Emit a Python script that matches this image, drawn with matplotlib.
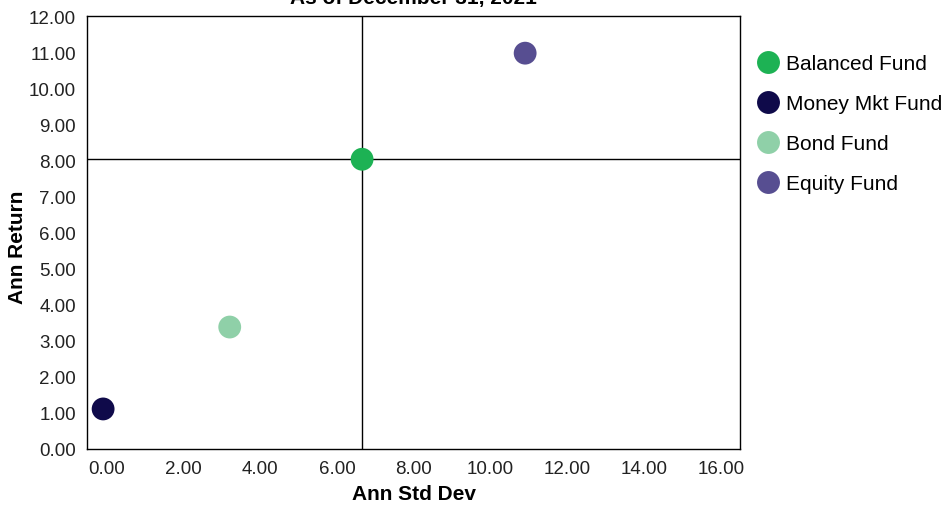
import matplotlib
matplotlib.use("Agg")
import matplotlib.pyplot as plt
from matplotlib.lines import Line2D

# data
funds = ["Balanced Fund", "Money Mkt Fund", "Bond Fund", "Equity Fund"]
std_dev = [6.65, -0.10, 3.20, 10.90]
ann_return = [8.03, 1.11, 3.38, 10.97]
colors = ["#1db254", "#0f0a4a", "#8fd0a8", "#574e91"]

x_ticks = [0, 2, 4, 6, 8, 10, 12, 14, 16]
y_ticks = list(range(0, 13))

plt.rcParams["font.family"] = ["Liberation Sans", "DejaVu Sans"]

fig = plt.figure(figsize=(9.47, 5.06), dpi=100)
ax = fig.add_axes([87 / 947, 1 - 450 / 506, (740 - 87) / 947, (450 - 17) / 506])

# crosshair through the balanced fund
ax.axvline(std_dev[0], color="black", lw=1, zorder=1)
ax.axhline(ann_return[0], color="black", lw=1, zorder=1)

for name, x, y, c in zip(funds, std_dev, ann_return, colors):
    ax.scatter(x, y, s=270, color=c, edgecolors="none", zorder=3, label=name)

ax.set_xlim(-0.52, 16.5)
ax.set_ylim(0, 12)
ax.set_xticks(x_ticks)
ax.set_yticks(y_ticks)
ax.set_xticklabels([f"{v:.2f}" for v in x_ticks], fontsize=13.5, color="#222222")
ax.set_yticklabels([f"{v:.2f}" for v in y_ticks], fontsize=13.5, color="#222222")
ax.tick_params(axis="x", length=0, pad=8)
ax.tick_params(axis="y", length=0, pad=8)
for s in ax.spines.values():
    s.set_linewidth(1)

ax.set_xlabel("Ann Std Dev", fontsize=15, fontweight="bold")
ax.set_ylabel("Ann Return", fontsize=15, fontweight="bold")
ax.xaxis.set_label_coords((414 - 87) / 653, -(495 - 450) / 433)
ax.yaxis.set_label_coords(-(87 - 18) / 653, (450 - 247) / 433)
ax.xaxis.label.set_va("center")
ax.yaxis.label.set_va("center")

fig.text(413 / 947, 1 - 4 / 506, "As of December 31, 2021", ha="center", va="baseline",
         fontsize=15, fontweight="bold")

handles = [Line2D([], [], marker="o", ls="none", markersize=16.5, markerfacecolor=c,
                  markeredgecolor="none") for c in colors]
fig.legend(handles, funds, loc="upper left", bbox_to_anchor=(747 / 947, 1 - 47 / 506),
           frameon=False, prop={"size": 15},
           handletextpad=0.25, labelspacing=1.0, handlelength=1.2, borderaxespad=0)

fig.savefig("out.png", dpi=100)
